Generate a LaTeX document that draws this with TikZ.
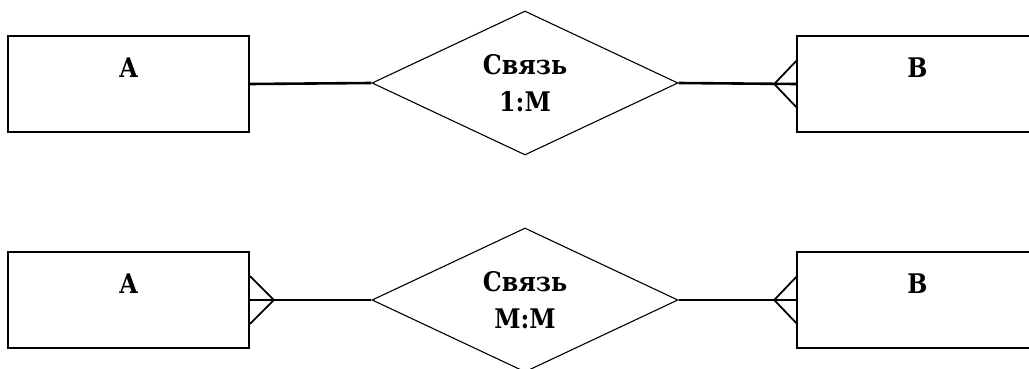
\documentclass[tikz,border=0pt]{standalone}
\usepackage{fontspec}
\setmainfont{DejaVu Serif}[FakeStretch=0.88]
\usetikzlibrary{shapes.geometric,calc}
\begin{document}
\begin{tikzpicture}[x=1pt,y=1pt,
  every node/.style={font=\fontsize{27}{37}\selectfont\bfseries},
  entity/.style={draw,line width=1.6pt,minimum width=241pt,minimum height=96pt,inner sep=0pt},
  relation/.style={draw,line width=1.1pt,diamond,aspect=2.125,minimum width=306pt,minimum height=144pt,
    inner sep=0pt,align=center},
  link/.style={line width=2.6pt},
  crow/.style={line width=1.8pt}]
\useasboundingbox (0,0) rectangle (1029,-369);
% 1:M
\node[entity,label={[yshift=16pt]center:A}] (A1) at (128.5,-84) {};
\node[entity,label={[yshift=16pt]center:B}] (B1) at (917.5,-84) {};
\node[relation] (R1) at (525,-83) {Связь\\1:M};
\draw[link] (A1.east) -- (R1.west);
\draw[link] (R1.east) -- (B1.west);
\draw[crow] ($(B1.west)+(0,23)$) -- ($(B1.west)+(-22,0)$) -- ($(B1.west)+(0,-23)$);
% M:M
\node[entity,label={[yshift=16pt]center:A}] (A2) at (128.5,-300) {};
\node[entity,label={[yshift=16pt]center:B}] (B2) at (917.5,-300) {};
\node[relation] (R2) at (525,-300) {Связь\\M:M};
\draw[link] (A2.east) -- (R2.west);
\draw[link] (R2.east) -- (B2.west);
\draw[crow] ($(A2.east)+(0,24)$) -- ($(A2.east)+(24,0)$) -- ($(A2.east)+(0,-24)$);
\draw[crow] ($(B2.west)+(0,23)$) -- ($(B2.west)+(-22,0)$) -- ($(B2.west)+(0,-23)$);
\end{tikzpicture}
\end{document}
